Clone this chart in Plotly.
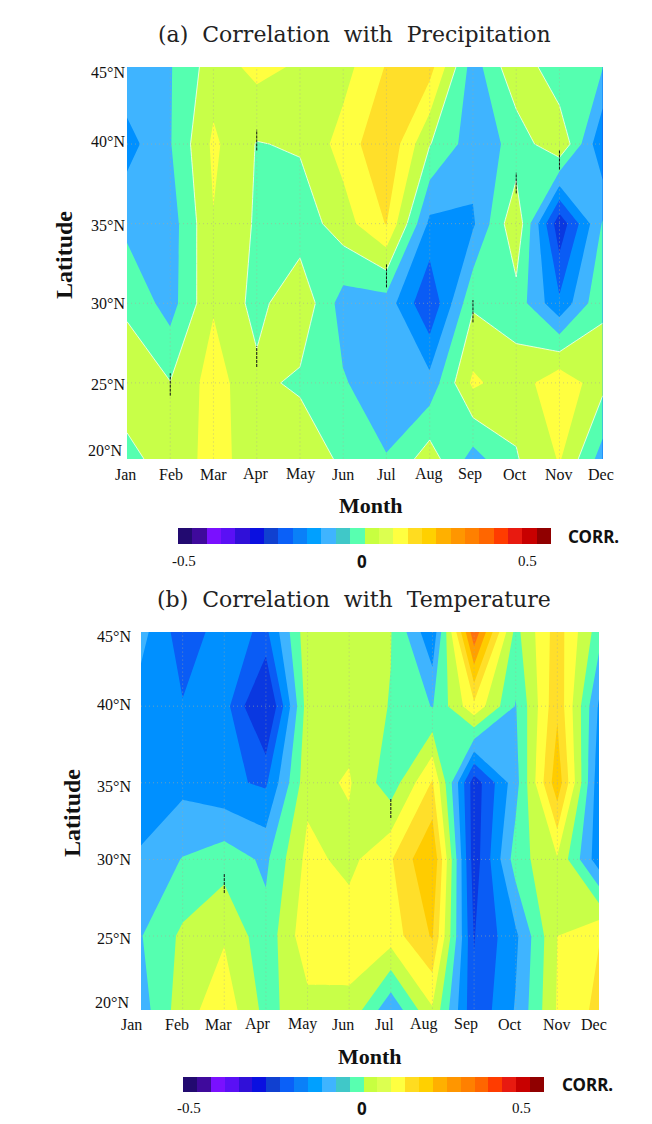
import plotly.graph_objects as go

W, H = 652, 1124

MONTHS = ["Jan", "Feb", "Mar", "Apr", "May", "Jun", "Jul", "Aug", "Sep", "Oct", "Nov", "Dec"]
LATS = [20, 25, 30, 35, 40, 45]
LAT_LABELS = ["20°N", "25°N", "30°N", "35°N", "40°N", "45°N"]

PRECIP = [
    [-.04, .05, .13, .06, .09, -.02, -.09, .065, -.155, -.01, .105, -.156],
    [.067, .003, .146, .025, -.02, -.09, -.17, -.165, .12, .04, .18, .03],
    [-.02, -.142, .09, -.033, .08, -.145, -.145, -.39, -.015, -.041, -.28, -.01],
    [-.125, -.15, .095, -.013, -.06, .055, .205, -.225, -.215, .083, -.47, -.09],
    [-.24, -.106, .12, -.005, .012, .14, .29, .005, -.155, -.07, .095, -.29],
    [-.12, -.107, .05, .135, .09, .06, .205, .25, -.15, .09, -.1, -.09],
]
TEMP = [
    [-.15, .06, .165, -.03, .06, .067, -.19, .08, -.38, -.19, .11, .23],
    [-.105, .02, .09, -.065, .17, .16, .15, .31, -.405, -.22, .1, .195],
    [-.18, -.095, -.043, -.12, .13, .07, .19, .4, -.46, -.05, .09, -.26],
    [-.29, -.23, -.28, -.315, .07, .11, -.06, .21, -.46, -.14, .37, -.27],
    [-.25, -.293, -.26, -.55, .05, .06, -.005, -.105, .175, -.106, .28, -.215],
    [-.16, -.36, -.255, -.32, .07, .05, .005, -.29, .59, -.03, .25, -.05],
]
# short black dashed marks: (month index, lat low, lat high)
MARKS_A = [(1, 24.2, 25.6), (3, 26.0, 27.3), (3, 39.6, 40.9), (6, 31.0, 32.5), (8, 28.8, 30.2), (9, 36.9, 38.2), (10, 38.4, 39.6)]
MARKS_B = [(2, 27.8, 29.1), (6, 32.7, 34.0)]

CBAR_VALUES = [-.5, -.46, -.42, -.38, -.34, -.3, -.26, -.22, -.18, -.14, -.1, -.06, -.02,
               .02, .06, .1, .14, .18, .22, .26, .3, .34, .38, .42, .46, .5]
CBAR_COLORS = ["#220a70", "#3f0a9c", "#7a10ff", "#5a10f5", "#3010d8", "#0a10e0", "#1040d0", "#0a60f8",
               "#0a80f8", "#00a0ff", "#3fb4ff", "#40c8c8", "#58ffb0", "#c8ff40", "#dcff50", "#ffff40",
               "#ffdc20", "#ffd000", "#ffb000", "#ff9600", "#ff8000", "#ff6600", "#ff3c00", "#e81a10",
               "#c80000", "#900000"]
BAND_COLORS = ["#0830d8", "#0a38e0", "#0a5cf5", "#0090ff", "#3fb4ff", "#55ffb0",
               "#c8ff48", "#ffff40", "#ffdf2a", "#ffcc00", "#ffa000", "#ff7010"]


def stepped(colors):
    n = len(colors)
    out = []
    for i, c in enumerate(colors):
        out += [[i / n, c], [(i + 1) / n, c]]
    return out


def dx(a, b):
    return [a / W, b / W]


def dy(top, bottom):
    return [1 - bottom / H, 1 - top / H]


fig = go.Figure()
annotations = []


def ann(text, px, py, size, family="Liberation Serif", bold=False, xanchor="center", angle=0, color="#111"):
    annotations.append(dict(text=f"<b>{text}</b>" if bold else text, x=px / W, y=1 - py / H, xref="paper", yref="paper",
                            showarrow=False, xanchor=xanchor, yanchor="middle", textangle=angle,
                            font=dict(family=family, size=size, color=color), borderpad=0, borderwidth=0))


def panel(z, suffix, marks, zero_line):
    xa, ya = "x" + suffix, "y" + suffix
    months = list(range(len(MONTHS)))
    fig.add_trace(go.Contour(x=months, y=LATS, z=z, xaxis=xa, yaxis=ya, autocontour=False,
                             colorscale=stepped(BAND_COLORS), showscale=False,
                             contours=dict(start=-.6, end=.5, size=.1, coloring="fill"),
                             line=dict(width=0, smoothing=0), hoverinfo="skip"))
    if zero_line:
        fig.add_trace(go.Contour(x=months, y=LATS, z=z, xaxis=xa, yaxis=ya, showscale=False, autocontour=False,
                                 contours=dict(start=0, end=0, size=1, coloring="none"),
                                 line=dict(width=1, color="rgba(255,255,255,0.75)", smoothing=0), hoverinfo="skip"))
    grid = dict(color="rgba(170,170,150,0.6)", width=1, dash="1px 3px")
    gx, gy = [], []
    for m in months[1:-1]:
        gx += [m, m, None]
        gy += [LATS[0], LATS[-1], None]
    for lat in LATS[1:-1]:
        gx += [months[0], months[-1], None]
        gy += [lat, lat, None]
    fig.add_trace(go.Scatter(x=gx, y=gy, mode="lines", line=grid, xaxis=xa, yaxis=ya, showlegend=False, hoverinfo="skip"))
    mx, my = [], []
    for m, lo, hi in marks:
        mx += [m, m, None]
        my += [lo, hi, None]
    fig.add_trace(go.Scatter(x=mx, y=my, mode="lines", line=dict(color="#111", width=1, dash="3px 1px"),
                             xaxis=xa, yaxis=ya, showlegend=False, hoverinfo="skip"))


panel(PRECIP, "", MARKS_A, True)
panel(TEMP, "2", MARKS_B, False)

for s in ("3", "4"):
    fig.add_trace(go.Heatmap(x=CBAR_VALUES, y=[0], z=[CBAR_VALUES], xaxis="x" + s, yaxis="y" + s,
                             colorscale=stepped(CBAR_COLORS), zmin=CBAR_VALUES[0] - .02, zmax=CBAR_VALUES[-1] + .02,
                             showscale=False, hoverinfo="skip"))

hidden = dict(visible=False, showgrid=False, zeroline=False, fixedrange=True)
fig.update_layout(
    width=W, height=H, margin=dict(l=0, r=0, t=0, b=0), paper_bgcolor="white", plot_bgcolor="white", showlegend=False,
    xaxis=dict(hidden, domain=dx(127, 602.7), range=[0, 11]),
    yaxis=dict(hidden, domain=dy(67, 459), range=[20.22, 44.84]),
    xaxis2=dict(hidden, domain=dx(141, 599), range=[0, 11], anchor="y2"),
    yaxis2=dict(hidden, domain=dy(632, 1010), range=[20.17, 44.84], anchor="x2"),
    xaxis3=dict(hidden, domain=dx(178, 551), anchor="y3", range=[CBAR_VALUES[0] - .02, CBAR_VALUES[-1] + .02]),
    yaxis3=dict(hidden, domain=dy(528, 544), anchor="x3"),
    xaxis4=dict(hidden, domain=dx(183, 544), anchor="y4", range=[CBAR_VALUES[0] - .02, CBAR_VALUES[-1] + .02]),
    yaxis4=dict(hidden, domain=dy(1077, 1092), anchor="x4"),
)

ann("(a)\u00a0\u00a0Correlation\u00a0\u00a0with\u00a0\u00a0Precipitation", 354, 35, 22, family="DejaVu Serif", color="#222")
ann("(b)\u00a0\u00a0Correlation\u00a0\u00a0with\u00a0\u00a0Temperature", 354, 600, 22, family="DejaVu Serif", color="#222")

for name, px in zip(MONTHS, [125, 171, 213, 256, 300, 343, 386, 429, 470, 515, 559, 601]):
    ann(name, px, 474, 16)
for name, px in zip(MONTHS, [131, 177, 218, 258, 302, 343, 384, 424, 466, 510, 557, 594]):
    ann(name, px, 1024, 16)
for name, py, px in zip(LAT_LABELS, [450, 385, 303, 226, 142, 72], [122, 125, 125, 125, 125, 125]):
    ann(name, px, py, 16, xanchor="right")
for name, py, px in zip(LAT_LABELS, [1002, 938, 859, 786, 704, 636], [129, 131, 131, 131, 131, 131]):
    ann(name, px, py, 16, xanchor="right")

ann("Latitude", 64, 255, 24, bold=True, angle=-90)
ann("Latitude", 72, 813, 24, bold=True, angle=-90)
ann("Month", 371, 506, 22, bold=True)
ann("Month", 370, 1056, 22, bold=True)

ann("-0.5", 184, 561, 15)
ann("0", 362, 561, 17, family="Noto Sans", bold=True)
ann("0.5", 527, 561, 15)
ann("CORR.", 593, 536, 17, family="Noto Sans", bold=True)
ann("-0.5", 189, 1108, 15)
ann("0", 362, 1108, 17, family="Noto Sans", bold=True)
ann("0.5", 521, 1108, 15)
ann("CORR.", 587, 1084, 17, family="Noto Sans", bold=True)

fig.update_layout(annotations=annotations)
fig.write_html("out.html", config={"displayModeBar": False}, post_script="document.body.style.margin='0';")
